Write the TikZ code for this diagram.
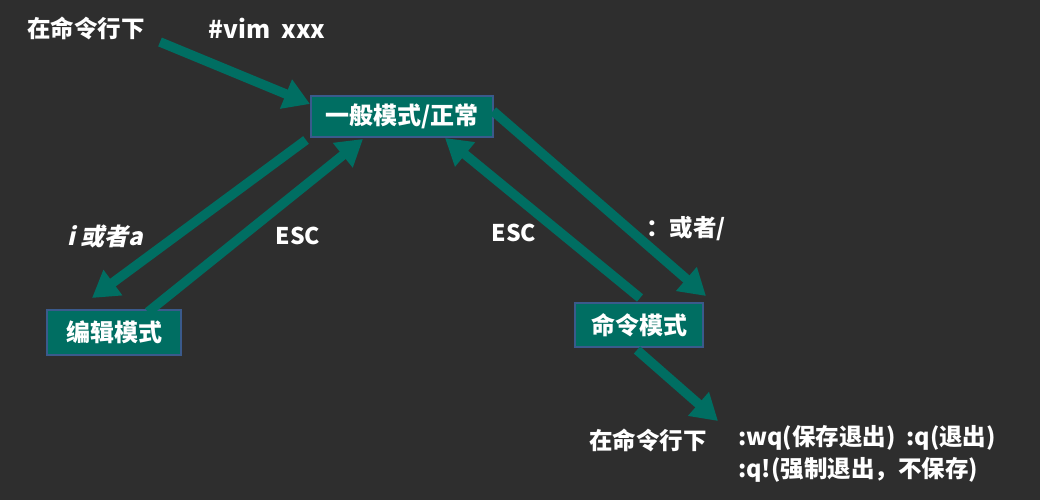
\documentclass[tikz,border=0pt]{standalone}
\usepackage{fontspec}
\usetikzlibrary{arrows.meta}
\newfontfamily\cjk{Noto Sans CJK SC}
\newfontfamily\cjkit[FakeSlant=0.22]{Noto Sans CJK SC}
\definecolor{board}{HTML}{2E2E2E}
\definecolor{teal1}{HTML}{006E62}
\definecolor{edge1}{HTML}{3A5A8C}
\tikzset{
  modebox/.style={draw=edge1, line width=2.5pt, fill=teal1, text=white,
    font=\cjk\bfseries\fontsize{24}{28}\selectfont, inner sep=0pt, anchor=center},
  lbl/.style={text=white, font=\cjk\bfseries\fontsize{23.5}{28}\selectfont, inner sep=0pt},
  bigarrow/.style={draw=teal1, line width=9.5pt, -{Triangle[length=26pt,width=30pt]}},
}
\begin{document}
\begin{tikzpicture}[x=1pt,y=-1pt]
\fill[board] (0,0) rectangle (1040,500);
\useasboundingbox (0,0) rectangle (1040,500);

\node[modebox, minimum width=182pt, minimum height=41pt] (top) at (402,116.5) {一般模式/正常};
\node[modebox, minimum width=134pt, minimum height=45pt] (edit) at (114,332.5) {编辑模式};
\node[modebox, minimum width=128pt, minimum height=44pt] (cmd) at (639,325) {命令模式};

\node[lbl] (cl1) at (86,28) {在命令行下};
\node[lbl, font=\cjk\bfseries\fontsize{24.5}{28}\selectfont] (vim) at (267,28) {\#vim\ \ xxx};
\node[lbl, font=\cjkit\bfseries\fontsize{24}{28}\selectfont] (ia) at (105,236) {i 或者a};
\node[lbl, font=\cjk\bfseries\fontsize{23}{28}\selectfont] (esc1) at (298,236) {ESC};
\node[lbl, font=\cjk\bfseries\fontsize{23}{28}\selectfont] (esc2) at (514,233) {ESC};
\node[lbl] (colon) at (686,229) {：或者/};
\node[lbl] (cl2) at (648,440) {在命令行下};
\node[lbl, anchor=west] (wq) at (738,438) {:wq(保存退出)\ \ :q(退出)};
\node[lbl, anchor=west] (qq) at (738,470) {:q!(强制退出，不保存)};

\coordinate (a1s) at (160,42);
\coordinate (a1e) at (310,104);
\coordinate (a2s) at (306,140);
\coordinate (a2e) at (92,298);
\coordinate (a3s) at (148,312);
\coordinate (a3e) at (363,139);
\coordinate (a4s) at (640,298);
\coordinate (a4e) at (445,138);
\coordinate (a5s) at (493,111);
\coordinate (a5e) at (706,296);
\coordinate (a6s) at (637,350);
\coordinate (a6e) at (718,421);

\draw[bigarrow] (a1s) -- (a1e);
\draw[bigarrow] (a2s) -- (a2e);
\draw[bigarrow] (a3s) -- (a3e);
\draw[bigarrow] (a4s) -- (a4e);
\draw[bigarrow] (a5s) -- (a5e);
\draw[bigarrow] (a6s) -- (a6e);
\end{tikzpicture}
\end{document}
